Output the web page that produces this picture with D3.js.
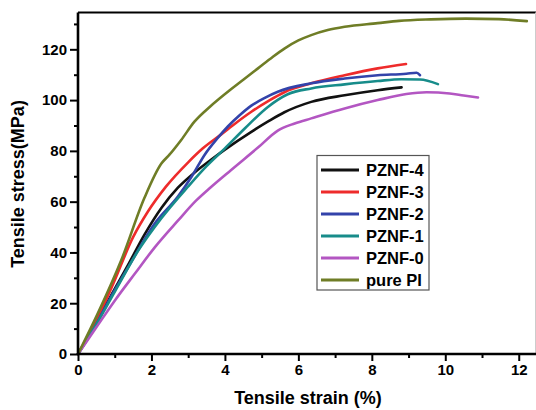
<!DOCTYPE html>
<html><head><meta charset="utf-8">
<script src="https://cdn.jsdelivr.net/npm/d3@7"></script>
<style>
body{margin:0;background:#fff;}
svg{display:block;font-family:"Liberation Sans",Arial,sans-serif;font-weight:bold;}
</style></head>
<body><svg id="c" width="536" height="410"></svg>
<script>
const seriesNames = ["PZNF-4","PZNF-3","PZNF-2","PZNF-1","PZNF-0","pure PI"];
const seriesColors = ["#111111","#ee2b2b","#3343aa","#178c8a","#b356c2","#6f7d26"];
const pznf4 = [[0,0],[0.45,11],[0.86,22],[1.36,35],[1.81,47],[2.27,57.5],[2.72,65.5],[3.2,71.8],[3.63,76.6],[4.0,80.5],[4.72,87.5],[5.2,91.8],[5.62,95.2],[6.35,99.3],[7.26,101.9],[8.16,103.9],[8.81,105]];
const pznf3 = [[0,0],[0.45,12],[0.91,26],[1.5,46],[1.9,56],[2.4,66],[3.0,75.5],[3.4,81],[3.9,86.5],[4.3,91],[4.72,95.4],[5.2,99.8],[5.62,103.1],[6.35,106.6],[7.26,109.8],[8.16,112.5],[8.93,114.2]];
const pznf2 = [[0,0],[0.45,10.5],[0.82,20.5],[1.4,35],[2.09,51.4],[2.72,62],[3.1,70],[3.45,78.5],[3.8,85],[4.08,89.6],[4.4,94],[4.72,97.8],[5.1,101],[5.44,103.3],[6.35,106.6],[7.26,108.5],[8.16,109.8],[8.94,110.4],[9.22,110.8],[9.31,109.8]];
const pznf1 = [[0,0],[0.45,10.5],[1.0,24.5],[1.63,40.5],[2.27,53.5],[3.0,66],[3.5,74],[4.0,81],[4.54,88.8],[5.17,97.3],[5.71,102.3],[6.35,104.6],[7.26,106.2],[8.16,107.5],[8.8,108.2],[9.31,108.1],[9.8,106.3]];
const pznf0 = [[0,0],[0.5,10.5],[1.0,21],[1.54,31.5],[2.09,42],[2.72,52.5],[3.22,60.5],[3.6,65.5],[4.17,72.5],[4.9,81.3],[5.44,88],[5.9,90.8],[6.35,92.8],[7.26,96.7],[8.16,100],[8.94,102.4],[9.49,103.1],[10.12,102.6],[10.5,101.8],[10.89,101]];
const purePI = [[0,0],[0.54,16],[1.18,37],[1.81,61.5],[2.27,75],[2.49,78.5],[2.81,84.3],[3.17,91.5],[3.6,97.5],[4.08,103.3],[4.5,108],[4.9,112.5],[5.3,117],[5.62,120.3],[6.0,123.5],[6.35,125.6],[6.8,127.6],[7.26,128.9],[8.16,130.3],[8.74,131.2],[9.6,131.8],[10.56,132.1],[11.46,131.9],[12.22,131.1]];
const seriesData = [pznf4,pznf3,pznf2,pznf1,pznf0,purePI];
const xTicks = [0,2,4,6,8,10,12];
const xMinor = [1,3,5,7,9,11];
const yTicks = [0,20,40,60,80,100,120];
const yMinor = [10,30,50,70,90,110,130];
const xTitle = "Tensile strain (%)";
const yTitle = "Tensile stress(MPa)";

const svg = d3.select("#c");
const L=78, R=536, T=12.5, B=354;
const x = d3.scaleLinear().domain([0,12.47]).range([L,R]);
const y = d3.scaleLinear().domain([0,134.5]).range([B,T]);

// frame top/right
svg.append("line").attr("x1",L).attr("x2",R).attr("y1",T).attr("y2",T).attr("stroke","#000").attr("stroke-width",2.2);
svg.append("line").attr("x1",R-0.5).attr("x2",R-0.5).attr("y1",T).attr("y2",B).attr("stroke","#ccc").attr("stroke-width",1);

// lines
const line = d3.line().x(d=>x(d[0])).y(d=>y(d[1])).curve(d3.curveMonotoneX);
const g = svg.append("g");
seriesData.forEach((s,i)=>{
  g.append("path").attr("d",line(s)).attr("fill","none").attr("stroke",seriesColors[i]).attr("stroke-width",2.6).attr("stroke-linejoin","round").attr("stroke-linecap","round");
});

// x axis
const xa = svg.append("g").attr("transform",`translate(0,${B})`)
  .call(d3.axisBottom(x).tickValues(xTicks).tickSize(7).tickPadding(3).tickFormat(d3.format("d")));
svg.append("g").attr("transform",`translate(0,${B})`)
  .call(d3.axisBottom(x).tickValues(xMinor).tickSize(4).tickFormat(""))
  .call(a=>a.select(".domain").remove());
// y axis
const ya = svg.append("g").attr("transform",`translate(${L},0)`)
  .call(d3.axisLeft(y).tickValues(yTicks).tickSize(8).tickPadding(3).tickFormat(d3.format("d")));
svg.append("g").attr("transform",`translate(${L},0)`)
  .call(d3.axisLeft(y).tickValues(yMinor).tickSize(4).tickFormat(""))
  .call(a=>a.select(".domain").remove());

svg.selectAll(".domain").attr("stroke","#000").attr("stroke-width",2.6);
svg.selectAll(".tick line").attr("stroke","#000").attr("stroke-width",2);
svg.selectAll(".tick text").attr("font-family","Liberation Sans, Arial, sans-serif").attr("font-weight","bold").attr("font-size",15).attr("fill","#000");
xa.select(".domain").attr("d",`M${L},0H${R}`);
ya.select(".domain").attr("d",`M0,${B}V${T}`);

// titles
svg.append("text").attr("x",308).attr("y",404).attr("text-anchor","middle").attr("font-size",18).text(xTitle);
svg.append("text").attr("transform",`translate(24,${184}) rotate(-90)`).attr("text-anchor","middle").attr("font-size",18).text(yTitle);

// legend
const lg = svg.append("g");
lg.append("rect").attr("x",317).attr("y",155.5).attr("width",112).attr("height",134.5).attr("fill","#fff").attr("stroke","#555").attr("stroke-width",1.2);
seriesNames.forEach((n,i)=>{
  const yy = 170 + i*22;
  lg.append("line").attr("x1",321).attr("x2",359).attr("y1",yy).attr("y2",yy).attr("stroke",seriesColors[i]).attr("stroke-width",2.8);
  lg.append("text").attr("x",366).attr("y",yy+6).attr("font-size",16.5).attr("fill","#000").text(n);
});
</script></body></html>
